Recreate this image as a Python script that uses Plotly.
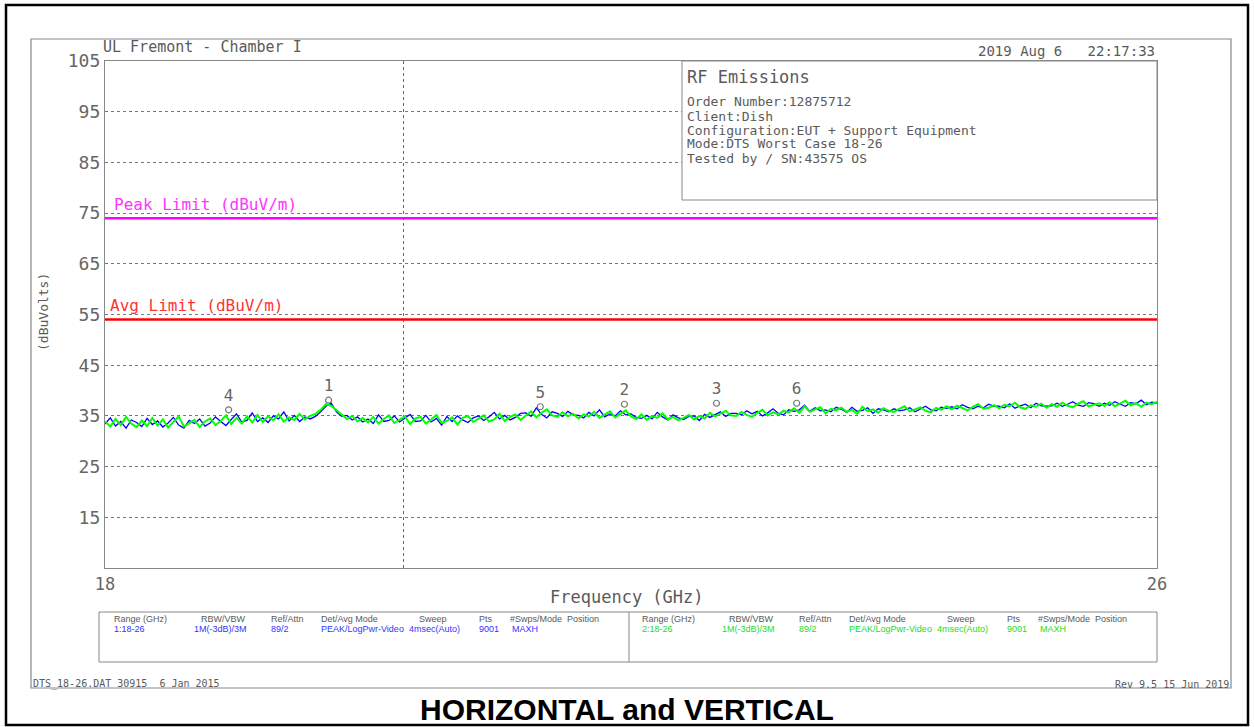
import numpy as np
import plotly.graph_objects as go

# ---------------- data ----------------
freq_start = 18.0
freq_stop = 26.0
n_points = 201
freq_ghz = np.linspace(freq_start, freq_stop, n_points)

trace1_blue = [
    33.4, 34.6, 33.0, 33.9, 32.6, 34.2, 33.7, 32.9, 34.5, 33.3,
    34.0, 32.8, 33.6, 34.7, 33.2, 32.6, 34.1, 33.5, 34.4, 33.0,
    33.6, 34.8, 33.9, 33.1, 34.3, 35.4, 33.8, 34.1, 35.6, 33.9,
    34.6, 33.7, 35.0, 34.4, 35.8, 34.0, 35.1, 33.9, 34.8, 34.4,
    34.9, 35.8, 36.9, 37.5, 35.8, 34.9, 35.1, 34.2, 34.8, 33.8,
    34.4, 33.5, 35.2, 33.9, 34.1, 35.0, 33.8, 34.6, 35.3, 33.9,
    34.0, 35.1, 33.8, 34.5, 33.2, 34.9, 33.9, 35.0, 34.2, 33.7,
    34.6, 35.0, 34.1, 34.8, 35.7, 34.4, 35.1, 34.2, 34.7, 35.5,
    35.6, 34.9, 36.6, 35.3, 34.6, 35.8, 35.5, 34.9, 35.9, 35.2,
    35.1, 34.6, 35.7, 35.0, 36.2, 34.8, 35.4, 35.0, 36.0, 35.2,
    35.4, 34.7, 34.5, 35.1, 34.4, 35.7, 34.8, 34.2, 35.2, 34.6,
    34.3, 34.9, 35.0, 34.1, 35.3, 34.7, 35.2, 35.8, 34.9, 35.5,
    35.5, 35.2, 36.0, 35.4, 35.9, 35.0, 35.6, 36.4, 35.5, 35.2,
    36.2, 35.9, 36.2, 37.1, 35.9, 36.6, 36.0, 36.2, 35.8, 36.7,
    36.3, 35.7, 36.7, 35.9, 36.1, 36.6, 35.5, 36.4, 36.2, 35.8,
    36.4, 36.0, 36.2, 36.6, 35.8, 36.4, 36.9, 36.2, 36.0, 36.7,
    36.5, 36.8, 36.4, 37.2, 36.7, 36.4, 36.9, 36.6, 37.3, 36.9,
    36.9, 36.6, 37.4, 36.5, 37.0, 37.3, 36.6, 37.5, 37.0, 36.9,
    37.0, 37.5, 36.9, 37.3, 37.8, 37.1, 36.9, 37.6, 37.4, 36.9,
    37.5, 37.1, 37.8, 37.3, 36.9, 37.6, 37.4, 38.1, 37.2, 37.7,
    37.5,
]

trace2_green = [
    33.9, 32.9, 34.4, 33.2, 34.8, 33.5, 32.8, 34.1, 33.0, 34.6,
    33.1, 34.3, 32.7, 33.8, 34.9, 32.9, 33.6, 34.2, 32.8, 33.9,
    34.5, 33.2, 34.0, 35.1, 33.4, 34.6, 33.5, 34.9, 33.7, 35.2,
    33.8, 34.9, 34.1, 35.3, 33.9, 34.7, 34.2, 35.4, 34.3, 35.0,
    35.4, 36.2, 37.3, 37.0, 36.1, 35.2, 34.4, 35.0, 33.9, 34.6,
    33.7, 34.8, 33.5, 34.4, 35.1, 33.6, 34.2, 34.9, 33.4, 34.5,
    34.8, 33.5, 34.3, 35.2, 33.6, 34.0, 34.7, 33.3, 34.6, 35.0,
    33.8, 34.5, 35.1, 33.9, 34.3, 35.4, 34.0, 34.8, 35.3, 34.2,
    35.0, 35.9, 34.7, 35.6, 36.3, 35.1, 34.8, 35.7, 34.9, 35.4,
    34.5, 35.3, 34.9, 35.8, 34.6, 35.2, 35.9, 34.7, 35.4, 36.1,
    34.9, 34.4, 35.3, 34.2, 35.0, 34.6, 35.5, 34.3, 34.8, 34.1,
    34.6, 35.2, 34.3, 35.0, 34.5, 35.6, 34.9, 35.4, 36.0, 35.1,
    35.0, 35.8, 35.2, 34.8, 35.6, 36.2, 35.1, 35.7, 35.3, 36.0,
    35.7, 36.5, 35.6, 36.9, 35.8, 36.3, 36.7, 35.5, 36.4, 36.1,
    36.6, 35.8, 36.2, 35.4, 36.8, 35.9, 36.3, 35.6, 36.5, 36.0,
    35.8, 36.4, 36.9, 35.9, 36.3, 36.7, 36.0, 35.7, 36.6, 36.2,
    36.9, 36.3, 37.0, 36.5, 36.1, 36.8, 37.3, 36.4, 36.6, 37.1,
    36.5, 37.2, 36.9, 37.6, 36.7, 36.4, 37.1, 36.8, 37.4, 36.6,
    37.3, 36.8, 37.6, 37.0, 36.7, 37.4, 37.9, 36.9, 37.2, 37.5,
    37.0, 37.7, 36.9, 37.4, 38.0, 37.1, 37.5, 36.8, 37.6, 37.3,
    37.8,
]

marker_labels = ["1", "2", "3", "4", "5", "6"]
marker_freq = [19.70, 21.95, 22.65, 18.94, 21.31, 23.26]
marker_level = [38.1, 37.3, 37.5, 36.2, 36.8, 37.5]

peak_limit = 74.0
avg_limit = 54.0
grid_freq = 20.27

y_ticks = [15, 25, 35, 45, 55, 65, 75, 85, 95, 105]
x_ticks = [18, 26]

info_lines = [
    "Order Number:12875712",
    "Client:Dish",
    "Configuration:EUT + Support Equipment",
    "Mode:DTS Worst Case 18-26",
    "Tested by / SN:43575 OS",
]

table_headers = ["Range (GHz)", "RBW/VBW", "Ref/Attn", "Det/Avg Mode", "Sweep", "Pts", "#Swps/Mode", "Position"]
table_row1 = ["1:18-26", "1M(-3dB)/3M", "89/2", "PEAK/LogPwr-Video", "4msec(Auto)", "9001", "MAXH", ""]
table_row2 = ["2:18-26", "1M(-3dB)/3M", "89/2", "PEAK/LogPwr-Video", "4msec(Auto)", "9001", "MAXH", ""]

# ---------------- figure ----------------
MONO = "DejaVu Sans Mono"
SANS = "Liberation Sans"
GRAY = "#5a5a5a"
W, H = 1254, 727
L, R, T, B = 105, 97, 61, 159
PW, PH = W - L - R, H - T - B

fig = go.Figure()

fig.add_trace(go.Scatter(x=freq_ghz, y=trace1_blue, mode="lines",
                         line=dict(color="#0000ff", width=1.3), showlegend=False, hoverinfo="skip"))
fig.add_trace(go.Scatter(x=freq_ghz, y=trace2_green, mode="lines",
                         line=dict(color="#00ff00", width=2.0), showlegend=False, hoverinfo="skip"))

fig.add_trace(go.Scatter(x=[freq_start, freq_stop], y=[peak_limit, peak_limit], mode="lines",
                         line=dict(color="#ff00ff", width=2.5), showlegend=False, hoverinfo="skip"))
fig.add_trace(go.Scatter(x=[freq_start, freq_stop], y=[avg_limit, avg_limit], mode="lines",
                         line=dict(color="#ff0000", width=2.5), showlegend=False, hoverinfo="skip"))

fig.add_trace(go.Scatter(x=marker_freq, y=marker_level, mode="markers+text",
                         marker=dict(symbol="circle-open", size=6, color="#777777", line=dict(width=1.2)),
                         text=marker_labels, textposition="top center",
                         textfont=dict(family=MONO, size=16, color="#666666"),
                         showlegend=False, hoverinfo="skip"))


def px_x(p):
    return (p - L) / PW


def px_y(p):
    return 1 - (p - T) / PH


shapes = []
# outer black border
shapes.append(dict(type="rect", xref="paper", yref="paper", x0=px_x(6), x1=px_x(1248), y0=px_y(725), y1=px_y(5),
                   line=dict(color="black", width=2.5)))
# gray frame
shapes.append(dict(type="rect", xref="paper", yref="paper", x0=px_x(31), x1=px_x(1231), y0=px_y(688), y1=px_y(39),
                   line=dict(color="#888888", width=1.2)))
# vertical dashed grid line
shapes.append(dict(type="line", xref="x", yref="y", x0=grid_freq, x1=grid_freq, y0=5, y1=105,
                   line=dict(color="#666666", width=1, dash="dot"), layer="below"))
# info box in plot
shapes.append(dict(type="rect", xref="paper", yref="paper", x0=px_x(682), x1=px_x(1157), y0=px_y(200), y1=px_y(61),
                   line=dict(color="#888888", width=1), fillcolor="white", layer="above"))
# table boxes
shapes.append(dict(type="rect", xref="paper", yref="paper", x0=px_x(99), x1=px_x(1157), y0=px_y(662), y1=px_y(612),
                   line=dict(color="#888888", width=1)))
shapes.append(dict(type="line", xref="paper", yref="paper", x0=px_x(629), x1=px_x(629), y0=px_y(662), y1=px_y(612),
                   line=dict(color="#888888", width=1)))

annotations = []


def txt(x, y, s, size, color=GRAY, xanchor="left", yanchor="middle", family=MONO, textangle=0):
    annotations.append(dict(x=px_x(x), y=px_y(y), xref="paper", yref="paper", text=s, showarrow=False,
                            xanchor=xanchor, yanchor=yanchor, textangle=textangle,
                            font=dict(family=family, size=size, color=color)))


txt(101, 47, "UL Fremont - Chamber I", 15)
txt(1157, 51, "2019 Aug 6   22:17:33", 14, xanchor="right")
txt(685, 77, "RF Emissions", 17)
for i, s in enumerate(info_lines):
    txt(685, 102 + 14 * i, s, 13)
txt(112, 204, "Peak Limit (dBuV/m)", 16, color="#ff33ff")
txt(108, 305, "Avg Limit (dBuV/m)", 16, color="#ff3333")
txt(43, 312, "(dBuVolts)", 13, xanchor="center", textangle=-90)
txt(627, 597, "Frequency (GHz)", 17, xanchor="center")
txt(31, 684, "DTS_18-26.DAT 30915  6 Jan 2015", 10)
txt(1231, 684, "Rev 9.5 15 Jun 2019", 10, xanchor="right")
txt(627, 709, "<b>HORIZONTAL and VERTICAL</b>", 30, color="black", xanchor="center", family=SANS)

hdr_off = [0, 87, 157, 207, 305, 365, 396, 453]
val_off = [0, 80, 157, 207, 295, 365, 398, 453]
for start, row, col in [(112, table_row1, "#3333ff"), (640, table_row2, "#22dd22")]:
    for ho, vo, h, v in zip(hdr_off, val_off, table_headers, row):
        txt(start + ho, 619, h, 9, family=SANS)
        if v:
            txt(start + vo, 629, v, 9, color=col, family=SANS)

fig.update_layout(
    width=W, height=H,
    margin=dict(l=L, r=R, t=T, b=B, pad=0),
    paper_bgcolor="white", plot_bgcolor="white",
    shapes=shapes, annotations=annotations,
    xaxis=dict(range=[freq_start, freq_stop], tickvals=x_ticks, ticktext=[str(v) for v in x_ticks],
               showgrid=False, zeroline=False, showline=True, mirror=True, linecolor="#888888", linewidth=1.2,
               ticks="", tickfont=dict(family=MONO, size=17, color="#666666")),
    yaxis=dict(range=[5, 105], tickvals=y_ticks, ticktext=[str(v) for v in y_ticks],
               showgrid=True, gridcolor="#777777", griddash="dot", gridwidth=1,
               zeroline=False, showline=True, mirror=True, linecolor="#888888", linewidth=1.2,
               ticks="", tickfont=dict(family=MONO, size=18, color="#666666")),
)

fig.write_html("out.html", config={"displayModeBar": False},
               post_script="document.body.style.margin='0';document.body.style.overflow='hidden';")
